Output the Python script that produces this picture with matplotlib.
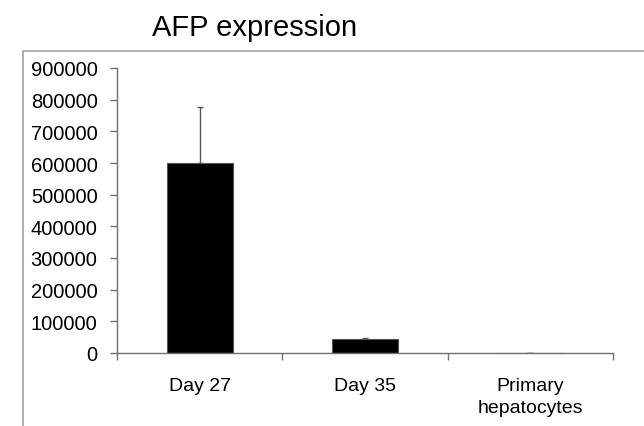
import numpy as np
import matplotlib.pyplot as plt
from matplotlib.lines import Line2D

# Données
categories = ["Day 27", "Day 35", "Primary\nhepatocytes"]
valeurs = [600000, 44000, 1000]
erreurs = [177000, 2000, 0]
titre = "AFP expression"
yticks = np.arange(0, 900001, 100000)

plt.rcParams['font.family'] = ['Liberation Sans', 'DejaVu Sans']

fig = plt.figure(figsize=(6.44, 4.27), dpi=100)
ax = fig.add_axes([117 / 644, 73 / 427, 496 / 644, 285 / 427])

x = np.arange(len(categories))
ax.bar(x, valeurs, width=0.4, color='black', edgecolor='#555555', linewidth=0.8, zorder=2)
ax.errorbar(x, valeurs, yerr=[np.zeros(len(erreurs)), erreurs], fmt='none',
            ecolor='#555555', elinewidth=1, capsize=2, capthick=1, zorder=1)

ax.set_xlim(-0.5, 2.5)
ax.set_ylim(0, 900000)
ax.set_yticks(yticks)
ax.set_yticklabels([str(v) for v in yticks], fontsize=14.5)
ax.set_xticks(x)
ax.set_xticklabels(categories, fontsize=14, linespacing=1.4)
ax.set_xticks([-0.5, 0.5, 1.5, 2.5], minor=True)

for s in ['top', 'right']:
    ax.spines[s].set_visible(False)
for s in ['left', 'bottom']:
    ax.spines[s].set_color('#707070')
    ax.spines[s].set_linewidth(1)

ax.tick_params(axis='y', direction='out', length=5, width=1, color='#707070', pad=9)
ax.tick_params(axis='x', which='major', length=0, pad=17)
ax.tick_params(axis='x', which='minor', direction='out', length=5, width=1, color='#707070')

# Cadre de la zone du graphique
fig.add_artist(Line2D([23 / 644, 23 / 644, 1], [0, 1 - 52 / 427, 1 - 52 / 427],
                      transform=fig.transFigure, color='#a0a0a0', linewidth=1.2))

fig.text(152 / 644, 1 - 28 / 427, titre, fontsize=21, ha='left', va='center')

fig.savefig("out.png", dpi=100)
